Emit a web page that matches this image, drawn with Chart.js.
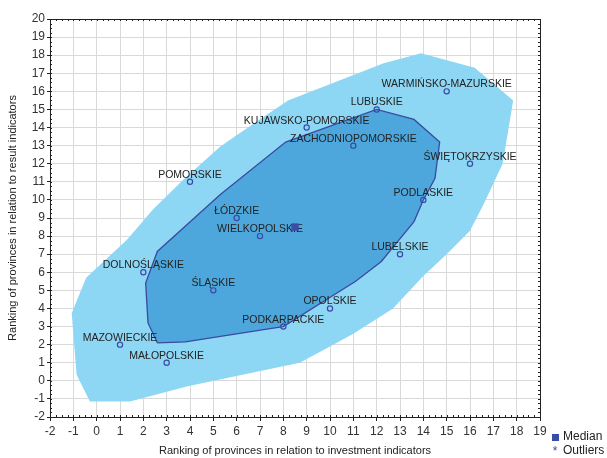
<!DOCTYPE html>
<html>
<head>
<meta charset="utf-8">
<script src="https://cdn.jsdelivr.net/npm/chart.js@4/dist/chart.umd.min.js"></script>
<style>
  html, body { margin: 0; padding: 0; background: #fff; }
  #wrap { width: 607px; height: 458px; }
</style>
</head>
<body>
<div id="wrap"><canvas id="c" width="607" height="458"></canvas></div>
<script>
// Provinces: rank by investment indicators (x) and by result indicators (y)
const provinces = ['WARMIŃSKO-MAZURSKIE', 'LUBUSKIE', 'KUJAWSKO-POMORSKIE', 'ZACHODNIOPOMORSKIE',
  'ŚWIĘTOKRZYSKIE', 'POMORSKIE', 'PODLASKIE', 'ŁÓDZKIE', 'WIELKOPOLSKIE', 'LUBELSKIE',
  'DOLNOŚLĄSKIE', 'ŚLĄSKIE', 'OPOLSKIE', 'PODKARPACKIE', 'MAZOWIECKIE', 'MAŁOPOLSKIE'];
const investRank = [15, 12, 9, 11, 16, 4, 14, 6, 7, 13, 2, 5, 10, 8, 1, 3];
const resultRank = [16, 15, 14, 13, 12, 11, 10, 9, 8, 7, 6, 5, 4, 3, 2, 1];

// Bivariate median
const medianX = [8.5];
const medianY = [8.5];

// Bag (inner polygon)
const bagX = [2.6, 3.8, 7.5, 8.0, 11.1, 12.2, 13.6, 14.0, 14.5, 14.7, 13.6, 12.0, 8.1, 5.3, 2.6, 2.1, 2.2, 2.6];
const bagY = [2.1, 2.15, 2.9, 3.0, 5.5, 6.6, 8.8, 10.0, 11.2, 13.2, 14.45, 15.0, 13.2, 10.3, 7.15, 5.4, 3.2, 2.1];

// Fence (outer polygon)
const fenceX = [-1.07, -0.86, -0.29, 1.43, 3.9, 8.7, 10.0, 11.0, 12.7, 14.0, 15.0, 16.0, 16.6, 17.4, 17.85,
  16.2, 13.9, 12.3, 8.2, 6.7, 5.3, 3.7, 2.4, 1.3, -0.45, -1.07];
const fenceY = [3.74, 0.33, -1.14, -1.14, -0.3, 1.0, 1.9, 2.6, 4.0, 5.8, 7.0, 8.3, 9.8, 12.0, 15.5,
  17.3, 18.1, 17.55, 15.5, 14.2, 12.95, 11.1, 9.45, 7.8, 5.7, 3.74];

// Axis ranges
const xMin = -2, xMax = 19;
const yMin = -2, yMax = 20;

const xyPairs = (xs, ys) => xs.map((x, i) => ({ x: x, y: ys[i] }));

const AXIS_FONT = 'Liberation Sans, Arial, sans-serif';

// Province names (drawn over the polygons, under the markers),
// minor ticks on the frame and the key
const annotate = {
  id: 'annotate',
  afterDatasetDraw(chart, args) {
    if (args.index !== 1) return;
    const { ctx, scales: { x, y } } = chart;
    ctx.save();
    ctx.font = '10.5px ' + AXIS_FONT;
    ctx.fillStyle = '#222';
    ctx.textAlign = 'center';
    ctx.textBaseline = 'alphabetic';
    provinces.forEach((name, i) => {
      ctx.fillText(name, x.getPixelForValue(investRank[i]), y.getPixelForValue(resultRank[i]) - 4);
    });
    ctx.restore();
  },
  afterDraw(chart) {
    const { ctx, chartArea: a, scales: { x, y } } = chart;
    ctx.save();
    ctx.strokeStyle = '#222';
    ctx.lineWidth = 1;
    ctx.strokeRect(Math.round(a.left) + 0.5, Math.round(a.top) + 0.5,
      Math.round(a.right - a.left), Math.round(a.bottom - a.top));
    ctx.beginPath();
    for (let v = xMin; v <= xMax + 1e-9; v += 0.25) {
      const px = Math.round(x.getPixelForValue(v)) + 0.5;
      ctx.moveTo(px, a.top); ctx.lineTo(px, a.top + 2);
      ctx.moveTo(px, a.bottom); ctx.lineTo(px, a.bottom - 2);
    }
    for (let v = yMin; v <= yMax + 1e-9; v += 0.25) {
      const py = Math.round(y.getPixelForValue(v)) + 0.5;
      ctx.moveTo(a.left, py); ctx.lineTo(a.left + 2, py);
      ctx.moveTo(a.right, py); ctx.lineTo(a.right - 2, py);
    }
    ctx.stroke();

    // key
    ctx.fillStyle = '#3b4ba8';
    ctx.fillRect(552, 434, 7, 7);
    ctx.font = '12px ' + AXIS_FONT;
    ctx.textBaseline = 'middle';
    ctx.textAlign = 'center';
    ctx.fillText('*', 555, 452);
    ctx.textAlign = 'left';
    ctx.fillStyle = '#222';
    ctx.fillText('Median', 563, 437);
    ctx.fillText('Outliers', 563, 451);
    ctx.restore();
  }
};

new Chart(document.getElementById('c'), {
  type: 'scatter',
  data: {
    datasets: [
      {
        label: 'Fence',
        data: xyPairs(fenceX, fenceY),
        showLine: true,
        fill: 'shape',
        backgroundColor: '#8dd7f5',
        borderColor: 'rgba(0,0,0,0)',
        borderWidth: 0,
        pointRadius: 0,
        tension: 0,
        order: 3
      },
      {
        label: 'Bag',
        data: xyPairs(bagX, bagY),
        showLine: true,
        fill: 'shape',
        backgroundColor: '#4da7dc',
        borderColor: '#3b4aa0',
        borderWidth: 1.3,
        pointRadius: 0,
        tension: 0,
        order: 2
      },
      {
        label: 'Provinces',
        data: xyPairs(investRank, resultRank),
        pointStyle: 'circle',
        pointRadius: 2.6,
        pointBorderWidth: 1.2,
        borderColor: '#3a4aa6',
        backgroundColor: 'rgba(0,0,0,0)',
        order: 1
      },
      {
        label: 'Median',
        data: xyPairs(medianX, medianY),
        pointStyle: 'rect',
        pointRadius: 5.2,
        pointBorderWidth: 0,
        pointBackgroundColor: '#3b4ba8',
        pointBorderColor: '#3b4ba8',
        backgroundColor: '#3b4ba8',
        borderColor: '#3b4ba8',
        order: 0
      }
    ]
  },
  options: {
    responsive: false,
    animation: false,
    layout: { padding: { top: 19, right: 67, bottom: 0, left: 0 } },
    plugins: { legend: { display: false }, tooltip: { enabled: false } },
    scales: {
      x: {
        type: 'linear',
        min: xMin, max: xMax,
        afterFit(s) { s.height = 41; },
        ticks: { stepSize: 1, color: '#333', padding: 3, font: { family: AXIS_FONT, size: 12 } },
        grid: { color: '#d9d9d9', tickColor: '#222', tickLength: 4, lineWidth: 1 },
        border: { display: true, color: '#222', width: 1 },
        title: {
          display: true,
          text: 'Ranking of provinces in relation to investment indicators',
          color: '#222',
          font: { family: AXIS_FONT, size: 11 },
          padding: { top: 0, bottom: 0 }
        }
      },
      y: {
        type: 'linear',
        min: yMin, max: yMax,
        afterFit(s) { s.width = 50; },
        ticks: { stepSize: 1, color: '#333', padding: 2, font: { family: AXIS_FONT, size: 12 } },
        grid: { color: '#d9d9d9', tickColor: '#222', tickLength: 3, lineWidth: 1 },
        border: { display: true, color: '#222', width: 1 },
        title: {
          display: true,
          text: 'Ranking of provinces in relation to result indicators',
          color: '#222',
          font: { family: AXIS_FONT, size: 11 },
          padding: { top: 6, bottom: 0 }
        }
      }
    }
  },
  plugins: [annotate]
});
</script>
</body>
</html>
